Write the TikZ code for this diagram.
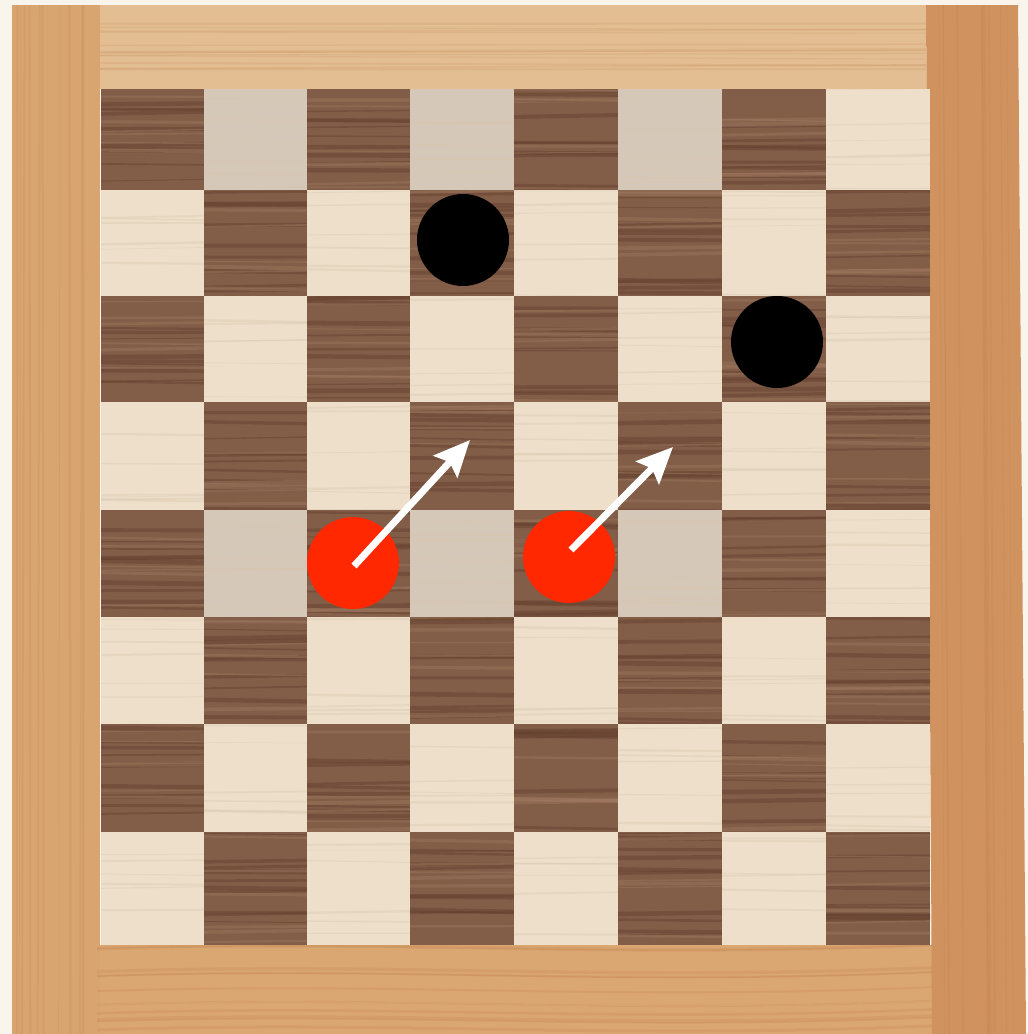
\documentclass[tikz,border=0pt]{standalone}
\usetikzlibrary{arrows.meta}
\definecolor{bg}{RGB}{250,245,236}
\definecolor{walnut}{RGB}{130,93,72}
\definecolor{walnutdk}{RGB}{96,62,44}
\definecolor{walnutlt}{RGB}{162,124,98}
\definecolor{maple}{RGB}{237,223,202}
\definecolor{mapledk}{RGB}{215,196,172}
\definecolor{maplegray}{RGB}{214,200,184}
\definecolor{frameleft}{RGB}{216,164,112}
\definecolor{frametop}{RGB}{226,190,146}
\definecolor{frameright}{RGB}{208,146,94}
\definecolor{framebot}{RGB}{218,166,114}
\definecolor{framegrain}{RGB}{185,120,70}
\definecolor{redpiece}{RGB}{255,40,0}
\tikzset{
  blackpiece/.style={circle, fill=black, draw=none, minimum size=92pt, inner sep=0pt},
  redpc/.style={circle, fill=redpiece, draw=none, minimum size=92pt, inner sep=0pt},
  movearrow/.style={draw=white, line width=7pt, -{Stealth[length=36pt,width=32pt,inset=6pt]}},
  grain/.style={line cap=butt}
}
\begin{document}
\begin{tikzpicture}[x=1pt,y=-1pt]
\useasboundingbox (0,0) rectangle (1028,1034);
\fill[bg] (0,0) rectangle (1028,1034);
% frame
\fill[frametop] (100,5) rectangle (926,89);
\fill[framebot] (97,945) rectangle (932,1034);
\fill[frameleft] (12,5) rectangle (100,1034);
\fill[frameright] (926,5) -- (1018,5) -- (1026,1034) -- (932,1034) -- cycle;
\pgfmathsetseed{11}
% frame grain
\begin{scope}
\clip (12,5) rectangle (100,1034);
\foreach \k in {1,...,10}{
  \pgfmathsetmacro\gx{14+rnd*84}
  \pgfmathsetmacro\gw{0.6+rnd*2}
  \draw[framegrain, opacity=0.14, line width=\gw pt] (\gx,5) -- (\gx+rnd*6-3,1034);
}
\end{scope}
\begin{scope}
\clip (926,5) -- (1018,5) -- (1026,1034) -- (932,1034) -- cycle;
\foreach \k in {1,...,10}{
  \pgfmathsetmacro\gx{928+rnd*90}
  \pgfmathsetmacro\gw{0.6+rnd*2}
  \draw[framegrain, opacity=0.14, line width=\gw pt] (\gx,5) -- (\gx+6,1034);
}
\end{scope}
\begin{scope}
\clip (100,5) rectangle (926,89);
\foreach \k in {1,...,12}{
  \pgfmathsetmacro\gy{8+rnd*78}
  \pgfmathsetmacro\gw{0.6+rnd*2.5}
  \draw[framegrain, opacity=0.14, line width=\gw pt] (100,\gy) -- (926,\gy+rnd*8-4);
}
\end{scope}
\begin{scope}
\clip (97,945) rectangle (932,1034);
\foreach \k in {1,...,12}{
  \pgfmathsetmacro\gy{948+rnd*84}
  \pgfmathsetmacro\gw{0.6+rnd*2.5}
  \draw[framegrain, opacity=0.18, line width=\gw pt] (97,\gy) .. controls (400,\gy-10) and (600,\gy+10) .. (932,\gy-4);
}
\end{scope}
% squares
\def\xs{{101,204,307,410,514,618,722,826,930}}
\def\ys{{89,190,296,402,510,617,724,832,945}}
\foreach \r in {0,...,7}{
  \foreach \c in {0,...,7}{
    \pgfmathsetmacro\xa{\xs[\c]}
    \pgfmathsetmacro\xb{\xs[\c+1]}
    \pgfmathsetmacro\ya{\ys[\r]}
    \pgfmathsetmacro\yb{\ys[\r+1]}
    \pgfmathtruncatemacro\pty{mod(\r+\c,2)}
    \pgfmathtruncatemacro\gry{(\r==0 || \r==4) && \c<7 ? 1 : 0}
    \begin{scope}
    \clip (\xa,\ya) rectangle (\xb,\yb);
    \ifnum\pty=0
      \fill[walnut] (\xa,\ya) rectangle (\xb,\yb);
      \foreach \k in {1,...,10}{
        \pgfmathsetmacro\yy{\ya+rnd*(\yb-\ya)}
        \pgfmathsetmacro\lw{1+rnd*4}
        \draw[walnutdk, opacity=0.4, line width=\lw pt, grain] (\xa,\yy) -- (\xb,\yy+rnd*4-2);
      }
      \foreach \k in {1,...,6}{
        \pgfmathsetmacro\yy{\ya+rnd*(\yb-\ya)}
        \pgfmathsetmacro\lw{1+rnd*3}
        \draw[walnutlt, opacity=0.4, line width=\lw pt, grain] (\xa,\yy) -- (\xb,\yy+rnd*4-2);
      }
    \else
      \ifnum\gry=1
        \fill[maplegray] (\xa,\ya) rectangle (\xb,\yb);
      \else
        \fill[maple] (\xa,\ya) rectangle (\xb,\yb);
      \fi
      \foreach \k in {1,...,6}{
        \pgfmathsetmacro\yy{\ya+rnd*(\yb-\ya)}
        \pgfmathsetmacro\lw{0.6+rnd*2}
        \draw[mapledk, opacity=0.3, line width=\lw pt, grain] (\xa,\yy) -- (\xb,\yy+rnd*4-2);
      }
    \fi
    \end{scope}
  }
}
% pieces
\node[blackpiece] (b1) at (463,240) {};
\node[blackpiece] (b2) at (777,342) {};
\node[redpc] (r1) at (353,563) {};
\node[redpc] (r2) at (569,557) {};
\coordinate (s1) at (354,566);
\coordinate (s2) at (571,550);
\coordinate (t1) at (470,440);
\coordinate (t2) at (673,447);
\draw[movearrow] (s1) -- (t1);
\draw[movearrow] (s2) -- (t2);
\end{tikzpicture}
\end{document}
